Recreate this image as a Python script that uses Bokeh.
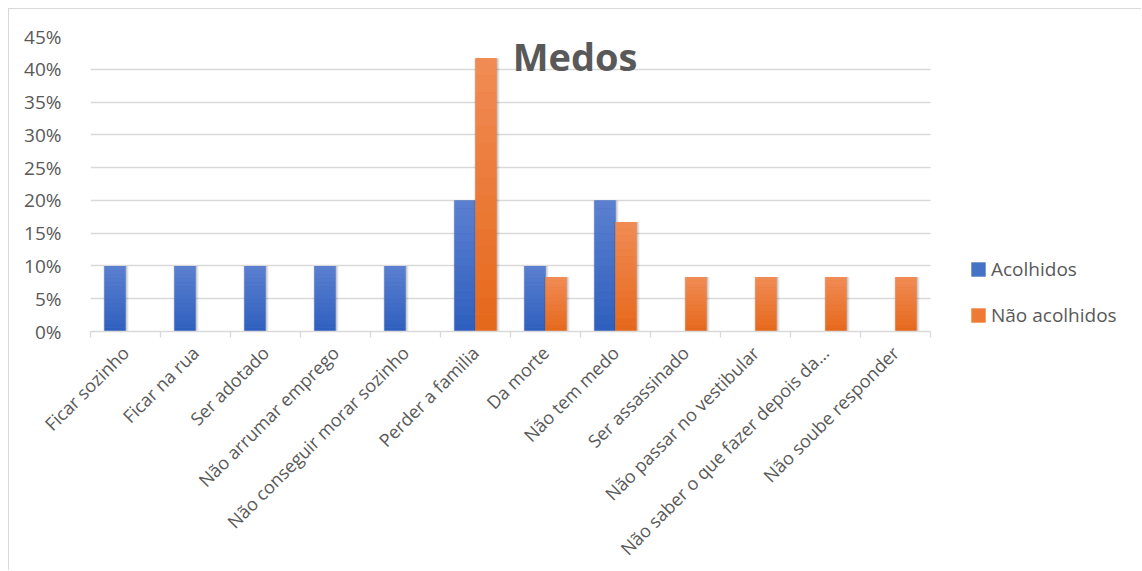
import math
import numpy as np
from bokeh.plotting import figure
from bokeh.models import (ColumnDataSource, Range1d, FixedTicker, PrintfTickFormatter,
                          Legend, LegendItem, Label)
from bokeh.embed import file_html
from bokeh.resources import INLINE

# ---- data ----
categories = ["Ficar sozinho", "Ficar na rua", "Ser adotado", "Não arrumar emprego",
              "Não conseguir morar sozinho", "Perder a familia", "Da morte", "Não tem medo",
              "Ser assassinado", "Não passar no vestibular",
              "Não saber o que fazer depois da...", "Não soube responder"]
acolhidos = [10, 10, 10, 10, 10, 20, 10, 20, 0, 0, 0, 0]
nao_acolhidos = [0, 0, 0, 0, 0, 41.7, 8.3, 16.7, 8.3, 8.3, 8.3, 8.3]
series_names = ["Acolhidos", "Não acolhidos"]
y_ticks = [0, 5, 10, 15, 20, 25, 30, 35, 40, 45]
title_text = "Medos"

FONT = "Open Sans"
TXT = "#595959"
GRID = "#d9d9d9"
BLUE_TOP, BLUE_BOT, BLUE_MID = (92, 128, 208), (46, 95, 190), "#4472c4"
ORG_TOP, ORG_BOT, ORG_MID = (241, 140, 86), (229, 104, 26), "#ee7a35"

n = len(categories)
centers = np.arange(n) + 0.5
bounds = list(np.arange(n + 1).astype(float))
bw = 0.3
# the plotting frame runs to the right edge; categories use 840 of its 1052 px
x_max = n * 1052 / 840

p = figure(width=1133, height=562, output_backend="svg", toolbar_location=None,
           x_range=Range1d(0, x_max), y_range=Range1d(0, max(y_ticks)),
           min_border_left=81, min_border_right=0, min_border_top=27, min_border_bottom=230)
p.margin = (8, 0, 0, 8)
p.styles = {"border-left": "1px solid #d9d9d9", "border-top": "1px solid #d9d9d9"}
p.outline_line_color = None
p.background_fill_color = "white"
p.border_fill_color = "white"

# y grid
yt = FixedTicker(ticks=y_ticks)
p.yaxis.ticker = yt
p.ygrid.ticker = yt
p.ygrid.grid_line_color = GRID
p.ygrid.grid_line_width = 1.3
p.ygrid.cross_bounds = (0, n)
p.xgrid.visible = False


def hexcol(c):
    return "#%02x%02x%02x" % tuple(int(round(v)) for v in c)


def gradient_bars(xs, vals, top_c, bot_c, mid_c, steps=16):
    v = np.asarray(vals, dtype=float)
    # soft shadow
    for extra, alpha in ((0.07, 0.05), (0.045, 0.07), (0.02, 0.09)):
        p.vbar(x=xs + 0.012, top=v, width=bw + extra, fill_color="#000000",
               fill_alpha=alpha, line_color=None)
    base = p.vbar(x=xs, top=v, width=bw, fill_color=mid_c, line_color=None)
    for k in range(steps):
        f0, f1 = k / steps, (k + 1) / steps
        t = (k + 0.5) / steps
        col = hexcol([b + (a - b) * t for a, b in zip(top_c, bot_c)])
        p.vbar(x=xs, bottom=v * f0, top=v * f1, width=bw, fill_color=col, line_color=None)
    return base


ra = gradient_bars(centers - bw / 2, acolhidos, BLUE_TOP, BLUE_BOT, BLUE_MID)
rb = gradient_bars(centers + bw / 2, nao_acolhidos, ORG_TOP, ORG_BOT, ORG_MID)

# y axis
p.yaxis.formatter = PrintfTickFormatter(format="%d%%")
p.yaxis.axis_line_color = None
p.yaxis.major_tick_line_color = None
p.yaxis.minor_tick_line_color = None
p.yaxis.major_label_text_font = FONT
p.yaxis.major_label_text_font_size = "19px"
p.yaxis.major_label_text_color = TXT
p.yaxis.major_label_standoff = 23

# x axis
p.xaxis.ticker = FixedTicker(ticks=list(centers), minor_ticks=bounds)
p.xaxis.bounds = (0, n)
p.xaxis.major_label_overrides = {float(c): lab for c, lab in zip(centers, categories)}
p.xaxis.major_tick_line_color = None
p.xaxis.major_tick_out = 6
p.xaxis.minor_tick_in = 0
p.xaxis.minor_tick_out = 6
p.xaxis.minor_tick_line_color = GRID
p.xaxis.minor_tick_line_width = 1.3
p.xaxis.axis_line_color = GRID
p.xaxis.axis_line_width = 1.3
p.xaxis.major_label_orientation = math.pi / 4
p.xaxis.major_label_text_font = FONT
p.xaxis.major_label_text_font_size = "18px"
p.xaxis.major_label_text_color = TXT
p.xaxis.major_label_text_line_height = 1.0
p.xaxis.major_label_standoff = 12

# title inside the chart area
p.add_layout(Label(x=484.5, y=276, x_units="screen", y_units="screen", text=title_text,
                   text_font=FONT, text_font_size="38px", text_font_style="bold",
                   text_color=TXT, text_align="center", text_baseline="alphabetic"))

# legend
legend = Legend(items=[LegendItem(label=series_names[0], renderers=[ra]),
                       LegendItem(label=series_names[1], renderers=[rb])],
                location=(879, 3), orientation="vertical",
                glyph_width=18, glyph_height=18, label_height=20, spacing=20,
                label_standoff=4, padding=0, margin=0, border_line_color=None,
                background_fill_alpha=0, label_text_font=FONT,
                label_text_font_size="19px", label_text_color=TXT)
p.add_layout(legend)

open("out.html", "w").write(file_html(p, INLINE))
